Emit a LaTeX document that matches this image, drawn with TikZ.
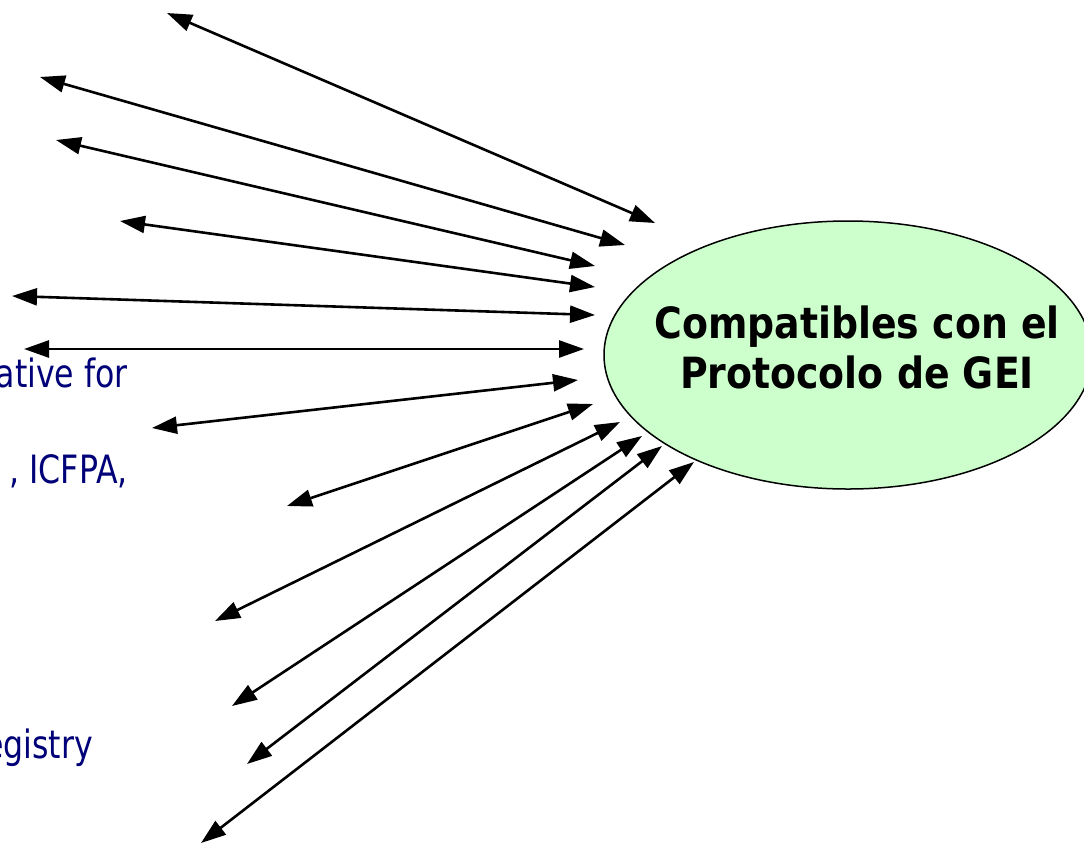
\documentclass[tikz,border=0pt]{standalone}
\usepackage{fontspec}
\usetikzlibrary{arrows.meta,shapes.geometric}
\newfontfamily\boldtah[FakeStretch=0.88]{DejaVu Sans Bold}
\newfontfamily\regtah[FakeStretch=0.81]{DejaVu Sans}
\definecolor{navytext}{RGB}{0,0,120}
\definecolor{palegreen}{RGB}{204,255,204}
\begin{document}
\begin{tikzpicture}[x=1pt,y=-1pt,
  link/.style={line width=2.6pt,{Triangle[length=25pt,width=17pt]}-{Triangle[length=25pt,width=17pt]}},
  bubble/.style={ellipse,draw=black,line width=1.5pt,fill=palegreen,minimum width=488pt,minimum height=268pt,inner sep=0pt},
  titletext/.style={anchor=base,inner sep=0pt,font=\boldtah\fontsize{43pt}{50pt}\selectfont},
  sidetext/.style={anchor=base east,inner sep=0pt,text=navytext,font=\regtah\fontsize{39pt}{46pt}\selectfont}]
\clip (0,0) rectangle (1084,844);
\fill[white] (0,0) rectangle (1084,844);
% left partial labels
\node[sidetext] (s1) at (128,387) {ative for};
\node[sidetext] (s2) at (128,483) {, ICFPA,};
\node[sidetext] (s3) at (93,758) {egistry};
% central ellipse
\node[bubble] (gei) at (848,355) {};
\node[titletext] (t1) at (857,338) {Compatibles con el};
\node[titletext] (t2) at (857,388) {Protocolo de GEI};
% arrow end points
\coordinate (l1) at (167,13);  \coordinate (r1) at (655,223);
\coordinate (l2) at (40,77);   \coordinate (r2) at (625,245);
\coordinate (l3) at (56,140);  \coordinate (r3) at (595,266);
\coordinate (l4) at (120,221); \coordinate (r4) at (595,287);
\coordinate (l5) at (12,296);  \coordinate (r5) at (595,315);
\coordinate (l6) at (24,349);  \coordinate (r6) at (584,349);
\coordinate (l7) at (152,428); \coordinate (r7) at (578,380);
\coordinate (l8) at (287,506); \coordinate (r8) at (593,404);
\coordinate (l9) at (215,621); \coordinate (r9) at (620,422);
\coordinate (l10) at (232,706); \coordinate (r10) at (642,436);
\coordinate (l11) at (247,764); \coordinate (r11) at (662,446);
\coordinate (l12) at (201,843); \coordinate (r12) at (694,462);
\foreach \i in {1,...,12} {\draw[link] (l\i) -- (r\i);}
\end{tikzpicture}
\end{document}
